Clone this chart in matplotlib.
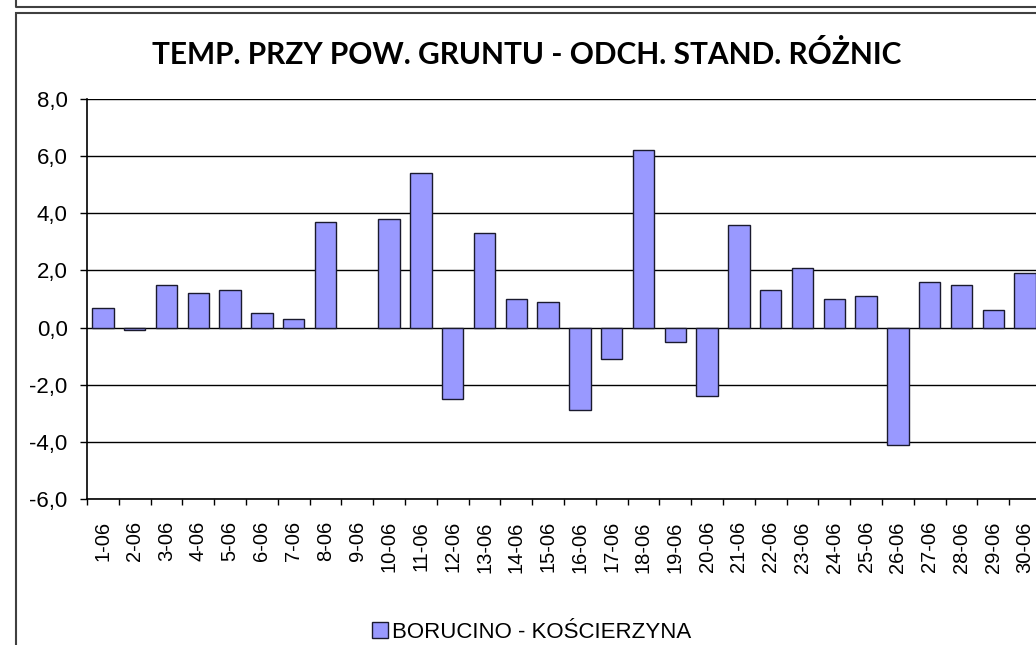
import matplotlib
matplotlib.use('Agg')
import matplotlib.pyplot as plt
import numpy as np
from matplotlib.patches import Patch, Rectangle
from matplotlib.lines import Line2D

# data
days = ['%d-06' % d for d in range(1, 31)]
values = [0.7, -0.1, 1.5, 1.2, 1.3, 0.5, 0.3, 3.7, np.nan, 3.8,
          5.4, -2.5, 3.3, 1.0, 0.9, -2.9, -1.1, 6.2, -0.5, -2.4,
          3.6, 1.3, 2.1, 1.0, 1.1, -4.1, 1.6, 1.5, 0.6, 1.9]
series_name = 'BORUCINO - KOŚCIERZYNA'
title = 'TEMP. PRZY POW. GRUNTU - ODCH. STAND. RÓŻNIC'
yticks = [-6.0, -4.0, -2.0, 0.0, 2.0, 4.0, 6.0, 8.0]

W, H = 1036, 645
fig = plt.figure(figsize=(W / 100, H / 100), dpi=100)
fig.patch.set_facecolor('white')

def fx(px):
    return px / W

def fy(py):
    return 1 - py / H

# chart frames (bottom of the chart above, and this chart's box)
fig.add_artist(Line2D([fx(16), fx(16), fx(1100)], [fy(-5), fy(7), fy(7)],
                      transform=fig.transFigure, color='#404040', lw=1.5))
fig.add_artist(Rectangle((fx(16), fy(700)), fx(1200), fy(13) - fy(700),
                         transform=fig.transFigure, fill=False,
                         edgecolor='#404040', lw=1.5))

left, top, bottom, right = 87, 99, 499, 1041
ax = fig.add_axes([fx(left), fy(bottom), fx(right - left), fy(top) - fy(bottom)])

x = np.arange(len(days))
ax.bar(x, values, width=0.667, color='#9999FF', edgecolor='#1a1a2e', linewidth=1.0, zorder=3)

ax.set_xlim(-0.5, len(days) - 0.5)
ax.set_ylim(-6, 8)
ax.set_yticks(yticks)
ax.set_yticklabels([('%.1f' % v).replace('.', ',') for v in yticks],
                   fontsize=16, family='Liberation Sans')
ax.yaxis.grid(True, color='black', lw=1.0, zorder=1)
ax.tick_params(axis='y', length=5, width=1.0, pad=9)

ax.set_xticks(x)
ax.set_xticklabels(days, rotation=90, fontsize=14.5, family='Liberation Sans')
ax.set_xticks(np.arange(-0.5, len(days)), minor=True)
ax.tick_params(axis='x', which='major', length=0, pad=16)
ax.tick_params(axis='x', which='minor', length=4.3, width=1.0)

for s in ['top', 'right']:
    ax.spines[s].set_visible(False)
for s in ['left', 'bottom']:
    ax.spines[s].set_linewidth(1.2)

fig.text(fx(527), fy(54), title, ha='center', va='center',
         fontsize=21.5, fontweight='bold', family='Lato')

handle = Patch(facecolor='#9999FF', edgecolor='#1a1a2e', linewidth=1.0)
fig.legend([handle], [series_name], loc='center', bbox_to_anchor=(fx(532), fy(632)),
           frameon=False, prop={'family': 'Liberation Sans', 'size': 16},
           handlelength=0.7, handleheight=0.7, handletextpad=0.2, borderpad=0)

fig.savefig('out.png', dpi=100)
